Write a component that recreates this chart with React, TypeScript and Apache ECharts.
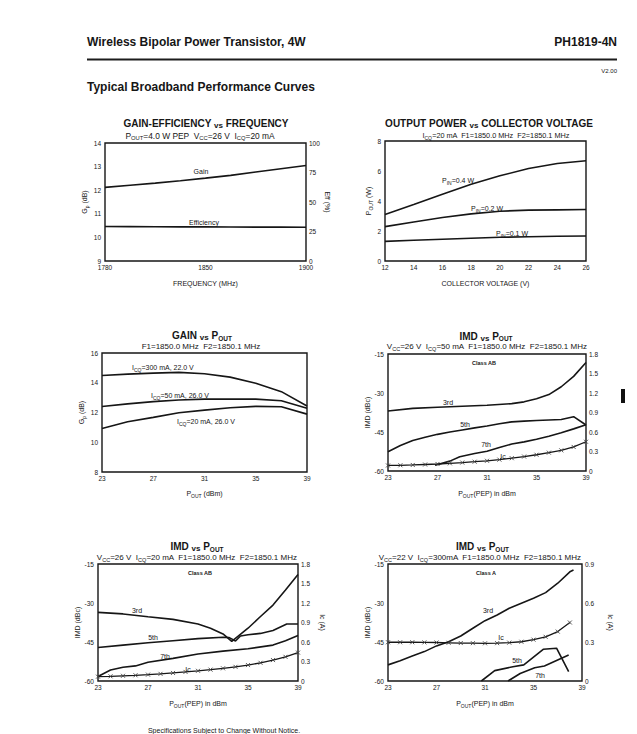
import React, { useEffect, useRef } from "react";
import * as echarts from "echarts";

const FONT = "'Liberation Sans', Arial, Helvetica, sans-serif";
const INK = "#161616";
type Pair = [number, number];

// ---------- Chart 1: Gain-Efficiency vs Frequency ----------
const freqMHz = [1780, 1795, 1810, 1825, 1840, 1855, 1870, 1885, 1900];
const gainVsFreq = [12.12, 12.21, 12.3, 12.4, 12.51, 12.63, 12.77, 12.91, 13.05];
const effVsFreq = [29.2, 29.1, 29.0, 28.9, 28.9, 28.8, 28.7, 28.7, 28.6];
const freqTickValues = [1780, 1840, 1900];
const freqTickLabels = ["1780", "1850", "1900"];
const gainTicks1 = [9, 10, 11, 12, 13, 14];
const effTicks1 = [0, 25, 50, 75, 100];

// ---------- Chart 2: Output power vs collector voltage ----------
const vcc = [12, 14, 16, 18, 20, 22, 24, 26];
const pout04 = [3.1, 3.76, 4.45, 5.12, 5.68, 6.17, 6.5, 6.68];
const pout02 = [2.29, 2.6, 2.9, 3.14, 3.32, 3.39, 3.41, 3.43];
const pout01 = [1.31, 1.38, 1.45, 1.52, 1.58, 1.62, 1.65, 1.67];
const vccTicks = [12, 14, 16, 18, 20, 22, 24, 26];
const poutWTicks = [0, 2, 4, 6, 8];

// ---------- Chart 3: Gain vs Pout ----------
const poutDbm = [23, 25, 27, 29, 31, 33, 35, 37, 39];
const gain300 = [14.49, 14.58, 14.65, 14.7, 14.6, 14.38, 13.97, 13.4, 12.44];
const gain50 = [12.4, 12.58, 12.73, 12.84, 12.9, 12.9, 12.9, 12.79, 12.29];
const gain20 = [10.93, 11.38, 11.67, 11.98, 12.16, 12.32, 12.41, 12.39, 11.89];
const poutTicks = [23, 27, 31, 35, 39];
const gainTicks3 = [8, 10, 12, 14, 16];

// ---------- IMD charts ----------
const imdTicks = [-60, -45, -30, -15];
const icTicks18 = [0, 0.3, 0.6, 0.9, 1.2, 1.5, 1.8];
const icTicks09 = [0, 0.3, 0.6, 0.9];
const pep = [23, 24, 25, 26, 27, 28, 29, 30, 31, 32, 33, 34, 35, 36, 37, 38, 39];

// Chart 4: Class AB, Icq = 50 mA
const ab50_3rd: Pair[] = [[23, -36.9], [25, -35.9], [27, -35.5], [29, -35.1], [31, -34.7], [33, -34.1], [34, -33.4], [35, -32.2], [36, -30.6], [37, -27.6], [38, -23.6], [39, -18.3]];
const ab50_5th = [-52.6, -50.2, -48.3, -47, -45.9, -45, -44.2, -43.4, -42.7, -41.8, -41.1, -40.8, -40.6, -40.4, -40.2, -39.1, -42.3];
const ab50_7th: Pair[] = [[26.8, -57.8], [28, -56.2], [28.8, -54.5], [30, -53.3], [31, -52.4], [32, -51], [33, -49.6], [34, -48.8], [35, -47.8], [36, -46.6], [37, -45.3], [38, -43.8], [39, -42.2]];
const ab50_ic = [0.085, 0.088, 0.093, 0.1, 0.108, 0.118, 0.13, 0.143, 0.157, 0.175, 0.197, 0.222, 0.25, 0.282, 0.318, 0.37, 0.45];

// Chart 5: Class AB, Icq = 20 mA
const ab20_3rd: Pair[] = [[23, -33.6], [25, -34.2], [27, -35.3], [29, -36.3], [31, -38.1], [32, -39.7], [33, -41.9], [33.7, -44.8], [35, -39.7], [36, -35.2], [37, -30.8], [38, -25], [39, -19]];
const ab20_5th: Pair[] = [[23, -47.1], [25, -46.2], [27, -45.3], [29, -44.5], [31, -43.7], [33, -43.2], [33.5, -43.3], [34, -44.6], [34.4, -42.7], [35, -42.2], [36, -41.7], [37, -40.6], [38.1, -38.1], [39, -38.1]];
const ab20_7th: Pair[] = [[23, -58.3], [24, -55.8], [25, -54.7], [26, -54.2], [27, -52.8], [29, -51.3], [31, -49.6], [33, -48.5], [35, -47.6], [37, -46.2], [38, -44.5], [39, -42.5]];
const ab20_ic = [0.067, 0.072, 0.08, 0.088, 0.098, 0.11, 0.124, 0.14, 0.157, 0.175, 0.195, 0.218, 0.245, 0.28, 0.322, 0.372, 0.437];

// Chart 6: Class A, Icq = 300 mA
const a300_3rd: Pair[] = [[23, -53.8], [24, -52.2], [25, -50.4], [26, -48.7], [27, -46.5], [28, -44.9], [29, -42.7], [30, -39.7], [31, -36.8], [32, -34.6], [33, -32], [34, -30.1], [35, -28.2], [36, -26], [37, -22.4], [38, -18], [38.3, -17.3]];
const a300_5th: Pair[] = [[30.7, -60], [31.8, -56], [33.3, -54.5], [34.2, -53.8], [35.8, -47.8], [36.9, -47.4], [37.9, -56.4]];
const a300_7th: Pair[] = [[32.9, -60], [33.9, -57.1], [35.1, -54.9], [35.9, -54.2], [37.9, -50]];
const a300_ic = [0.298, 0.298, 0.298, 0.297, 0.296, 0.294, 0.292, 0.291, 0.29, 0.291, 0.295, 0.302, 0.318, 0.34, 0.38, 0.45];

// ---------- helpers ----------
function richify(s: string): string {
  const out: string[] = [];
  const re = /([_~])\{([^}]*)\}/g;
  let last = 0;
  let m: RegExpExecArray | null;
  while ((m = re.exec(s))) {
    if (m.index > last) out.push(`{m|${s.slice(last, m.index)}}`);
    out.push(`{${m[1] === "_" ? "s" : "v"}|${m[2]}}`);
    last = re.lastIndex;
  }
  if (last < s.length) out.push(`{m|${s.slice(last)}}`);
  return out.join("");
}

function richSet(size: number, subSize: number, weight: string, lineH: number, vsSize?: number) {
  const base = { fontFamily: FONT, fontWeight: weight, fill: INK, color: INK };
  return {
    m: { ...base, fontSize: size, lineHeight: lineH, verticalAlign: "middle" },
    s: { ...base, fontSize: subSize, lineHeight: Math.round(lineH / 2), verticalAlign: "bottom" },
    v: { ...base, fontSize: vsSize ?? size, lineHeight: lineH - 1, verticalAlign: "bottom" },
  };
}

const RICH_TITLE = richSet(10, 6.5, "bold", 12, 8);
const RICH_SUB = richSet(8, 5.5, "normal", 11);
const RICH_SUB_L = richSet(8.4, 5.8, "normal", 11);
const RICH_SUB_S = richSet(7.3, 5, "normal", 10);
const RICH_NOTE = richSet(7, 5, "normal", 10);
const RICH_NAME = richSet(7, 5, "normal", 10);

function txt(x: number, y: number, s: string, rich: any, align = "center") {
  return {
    type: "text",
    x,
    y,
    silent: true,
    style: {
      text: richify(s),
      rich,
      align,
      textAlign: align,
      verticalAlign: "middle",
      textVerticalAlign: "middle",
      fill: INK,
      fontFamily: FONT,
    },
  };
}

function plainTxt(x: number, y: number, s: string, size: number, weight = "normal", align = "left") {
  return {
    type: "text",
    x,
    y,
    silent: true,
    style: {
      text: s,
      fontSize: size,
      fontWeight: weight,
      fontFamily: FONT,
      fill: INK,
      align,
      textAlign: align,
      verticalAlign: "middle",
      textVerticalAlign: "middle",
    },
  };
}

const fmt1 = (v: number) => (v === 0 ? "0" : v.toFixed(1));

function xAx(gi: number, min: number, max: number, ticks: number[], name: string, gap: number, formatter?: any) {
  const label: any = { customValues: ticks, fontSize: 6.5, fontFamily: FONT, color: INK, margin: 3 };
  if (formatter) label.formatter = formatter;
  return {
    type: "value",
    gridIndex: gi,
    min,
    max,
    axisLine: { show: false },
    axisTick: { show: false },
    splitLine: { show: false },
    axisLabel: label,
    name: richify(name),
    nameLocation: "middle",
    nameGap: gap,
    nameTextStyle: { rich: RICH_NAME },
  };
}

function yAx(gi: number, min: number, max: number, ticks: number[], name: string, gap: number, right = false, formatter?: any) {
  const label: any = { customValues: ticks, fontSize: 6.5, fontFamily: FONT, color: INK, margin: right ? 3 : 4 };
  if (formatter) label.formatter = formatter;
  return {
    type: "value",
    gridIndex: gi,
    position: right ? "right" : "left",
    min,
    max,
    axisLine: { show: false },
    axisTick: { show: false },
    splitLine: { show: false },
    axisLabel: label,
    name: name ? richify(name) : "",
    nameLocation: "middle",
    nameGap: gap,
    nameRotate: right ? -90 : 90,
    nameTextStyle: { rich: RICH_NAME },
  };
}

function ln(xi: number, yi: number, data: any[]) {
  return {
    type: "line",
    xAxisIndex: xi,
    yAxisIndex: yi,
    data,
    symbol: "none",
    silent: true,
    lineStyle: { color: INK, width: 1.6 },
  };
}

function icLine(xi: number, yi: number, data: any[]) {
  return {
    type: "line",
    xAxisIndex: xi,
    yAxisIndex: yi,
    data,
    silent: true,
    symbol: "path://M0,0L10,10M10,0L0,10",
    symbolSize: 4,
    showAllSymbol: true,
    itemStyle: { color: "rgba(0,0,0,0)", borderColor: "#444", borderWidth: 0.9 },
    lineStyle: { color: INK, width: 1.3 },
  };
}

const zip = (xs: number[], ys: number[]) => ys.map((y, i) => [xs[i], y]);

function buildOption() {
  const gridBase = { show: true, borderColor: INK, borderWidth: 1.4, backgroundColor: "transparent", containLabel: false };
  const grid = [
    { left: 105, top: 143, width: 201, height: 118 },
    { left: 385, top: 141, width: 201, height: 120 },
    { left: 102, top: 353, width: 205, height: 119 },
    { left: 388, top: 354, width: 198, height: 117 },
    { left: 98, top: 564, width: 200, height: 117 },
    { left: 388, top: 564, width: 194, height: 117 },
  ].map((g) => ({ ...gridBase, ...g }));

  const xAxis = [
    xAx(0, 1780, 1900, freqTickValues, "FREQUENCY (MHz)", 17, (v: number) => freqTickLabels[freqTickValues.indexOf(v)] ?? ""),
    xAx(1, 12, 26, vccTicks, "COLLECTOR VOLTAGE (V)", 17),
    xAx(2, 23, 39, poutTicks, "P_{OUT} (dBm)", 16),
    xAx(3, 23, 39, poutTicks, "P_{OUT}(PEP) in dBm", 17),
    xAx(4, 23, 39, poutTicks, "P_{OUT}(PEP) in dBm", 17),
    xAx(5, 23, 39, poutTicks, "P_{OUT}(PEP) in dBm", 17),
  ];

  const yAxis = [
    yAx(0, 9, 14, gainTicks1, "G_{p} (dB)", 12),
    yAx(0, 0, 100, effTicks1, "Eff (%)", 16, true),
    yAx(1, 0, 8, poutWTicks, "P_{OUT} (W)", 12),
    yAx(2, 8, 16, gainTicks3, "G_{p} (dB)", 13),
    yAx(3, -60, -15, imdTicks, "IMD (dBc)", 15),
    yAx(3, 0, 1.8, icTicks18, "", 20, true, fmt1),
    yAx(4, -60, -15, imdTicks, "IMD (dBc)", 15),
    yAx(4, 0, 1.8, icTicks18, "Ic (A)", 19, true, fmt1),
    yAx(5, -60, -15, imdTicks, "IMD (dBc)", 15),
    yAx(5, 0, 0.9, icTicks09, "Ic (A)", 23, true, fmt1),
  ];

  const series = [
    ln(0, 0, zip(freqMHz, gainVsFreq)),
    ln(0, 1, zip(freqMHz, effVsFreq)),
    ln(1, 2, zip(vcc, pout04)),
    ln(1, 2, zip(vcc, pout02)),
    ln(1, 2, zip(vcc, pout01)),
    ln(2, 3, zip(poutDbm, gain300)),
    ln(2, 3, zip(poutDbm, gain50)),
    ln(2, 3, zip(poutDbm, gain20)),
    ln(3, 4, ab50_3rd),
    ln(3, 4, zip(pep, ab50_5th)),
    ln(3, 4, ab50_7th),
    icLine(3, 5, zip(pep, ab50_ic)),
    ln(4, 6, ab20_3rd),
    ln(4, 6, ab20_5th),
    ln(4, 6, ab20_7th),
    icLine(4, 7, zip(pep, ab20_ic)),
    ln(5, 8, a300_3rd),
    ln(5, 8, a300_5th),
    ln(5, 8, a300_7th),
    icLine(5, 9, zip(pep, a300_ic)),
  ];

  const graphic: any[] = [
    // page header
    plainTxt(87, 42, "Wireless Bipolar Power Transistor, 4W", 12, "bold", "left"),
    plainTxt(617, 42, "PH1819-4N", 12, "bold", "right"),
    { type: "rect", silent: true, shape: { x: 87, y: 58.5, width: 530, height: 2 }, style: { fill: "#1c1c1c" } },
    plainTxt(617, 71, "V2.00", 6, "normal", "right"),
    plainTxt(87, 87, "Typical Broadband Performance Curves", 12, "bold", "left"),
    // titles
    txt(206, 123.5, "GAIN-EFFICIENCY ~{vs} FREQUENCY", RICH_TITLE),
    txt(200, 135.5, "P_{OUT}=4.0 W PEP  V_{CC}=26 V  I_{CQ}=20 mA", RICH_SUB_L),
    txt(489, 123.5, "OUTPUT POWER ~{vs} COLLECTOR VOLTAGE", RICH_TITLE),
    txt(496, 135.5, "I_{CQ}=20 mA  F1=1850.0 MHz  F2=1850.1 MHz", RICH_SUB_S),
    txt(202, 335.5, "GAIN ~{vs} P_{OUT}", RICH_TITLE),
    txt(201, 346.5, "F1=1850.0 MHz  F2=1850.1 MHz", RICH_SUB),
    txt(486, 336, "IMD ~{vs} P_{OUT}", RICH_TITLE),
    txt(487, 346.5, "V_{CC}=26 V  I_{CQ}=50 mA  F1=1850.0 MHz  F2=1850.1 MHz", RICH_SUB),
    txt(197, 546.5, "IMD ~{vs} P_{OUT}", RICH_TITLE),
    txt(197, 557, "V_{CC}=26 V  I_{CQ}=20 mA  F1=1850.0 MHz  F2=1850.1 MHz", RICH_SUB),
    txt(482.5, 546.5, "IMD ~{vs} P_{OUT}", RICH_TITLE),
    txt(480, 557, "V_{CC}=22 V  I_{CQ}=300mA  F1=1850.0 MHz  F2=1850.1 MHz", RICH_SUB),
    // chart 1 notes
    txt(201, 171.5, "Gain", RICH_NOTE),
    txt(204, 222.5, "Efficiency", RICH_NOTE),
    // chart 2 notes
    txt(442, 180, "P_{IN}=0.4 W", RICH_NOTE, "left"),
    txt(471, 208, "P_{IN}=0.2 W", RICH_NOTE, "left"),
    txt(496, 233, "P_{IN}=0.1 W", RICH_NOTE, "left"),
    // chart 3 notes
    txt(132, 367, "I_{CQ}=300 mA, 22.0 V", RICH_NOTE, "left"),
    txt(151, 395.5, "I_{CQ}=50 mA, 26.0 V", RICH_NOTE, "left"),
    txt(177, 421, "I_{CQ}=20 mA, 26.0 V", RICH_NOTE, "left"),
    // chart 4 notes
    plainTxt(484, 363, "Class AB", 5.5, "bold", "center"),
    plainTxt(448, 402, "3rd", 7, "normal", "center"),
    plainTxt(465, 424.5, "5th", 7, "normal", "center"),
    plainTxt(486, 444.5, "7th", 7, "normal", "center"),
    plainTxt(503, 456, "Ic", 7, "normal", "center"),
    { type: "rect", silent: true, shape: { x: 621, y: 389, width: 4, height: 14 }, style: { fill: "#111" } },
    // chart 5 notes
    plainTxt(200, 573, "Class AB", 5.5, "bold", "center"),
    plainTxt(137, 610, "3rd", 7, "normal", "center"),
    plainTxt(153, 637, "5th", 7, "normal", "center"),
    plainTxt(165, 656, "7th", 7, "normal", "center"),
    plainTxt(188, 669, "Ic", 7, "normal", "center"),
    // chart 6 notes
    plainTxt(486, 573, "Class A", 5.5, "bold", "center"),
    plainTxt(488, 610, "3rd", 7, "normal", "center"),
    plainTxt(501, 637, "Ic", 7, "normal", "center"),
    plainTxt(517, 660, "5th", 7, "normal", "center"),
    plainTxt(540, 675, "7th", 7, "normal", "center"),
    // footer
    plainTxt(224, 730, "Specifications Subject to Change Without Notice.", 7, "normal", "center"),
  ];

  return {
    animation: false,
    backgroundColor: "#ffffff",
    textStyle: { fontFamily: FONT },
    grid,
    xAxis,
    yAxis,
    series,
    graphic: { elements: graphic },
  };
}

export default function App() {
  const ref = useRef<HTMLDivElement>(null);
  useEffect(() => {
    if (!ref.current) return;
    const chart = echarts.init(ref.current, undefined, { renderer: "svg" });
    chart.setOption(buildOption() as any);
    return () => chart.dispose();
  }, []);
  return (
    <div
      ref={ref}
      style={{ position: "fixed", left: 0, top: 0, width: 637, height: 734, background: "#fff" }}
    />
  );
}
